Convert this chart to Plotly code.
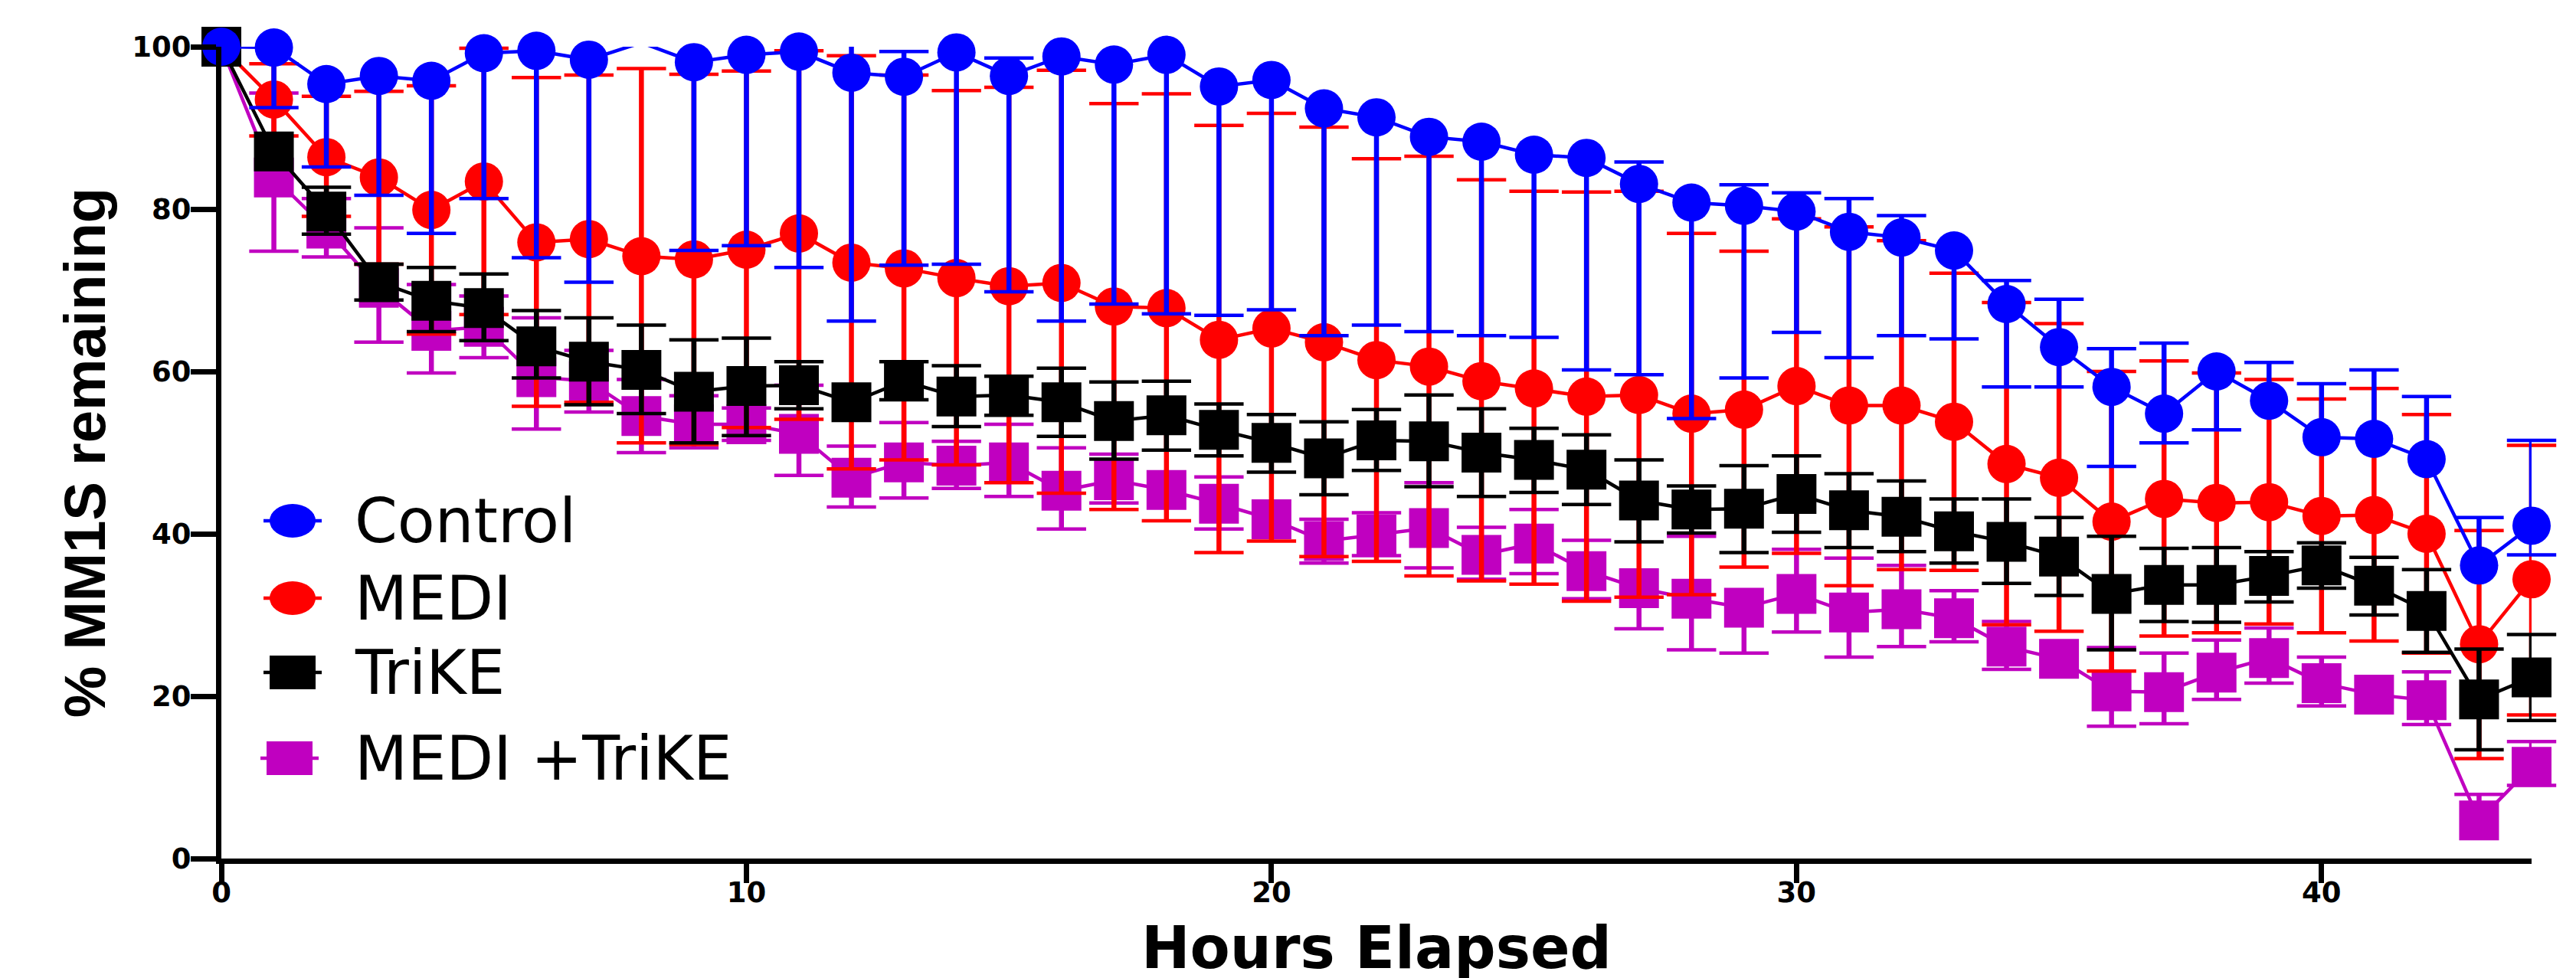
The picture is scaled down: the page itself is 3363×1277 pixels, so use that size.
import plotly.graph_objects as go

# ---------------- data ----------------
hours = list(range(45))

control = [100, 99.9, 95.4, 96.4, 95.8, 99.2, 99.5, 98.4, 100.5, 98.1,
           99.0, 99.4, 96.8, 96.3, 99.3, 96.4, 98.8, 97.8, 99.0, 95.1,
           95.9, 92.4, 91.3, 88.9, 88.3, 86.7, 86.3, 83.1, 80.8, 80.4,
           79.7, 77.2, 76.5, 74.9, 68.3, 63.0, 58.1, 54.8, 60.0, 56.4,
           51.9, 51.7, 49.2, 36.1, 41.0]
control_hi = [None, None, None, None, None, None, None, None, None, None,
              None, None, 103.0, 99.4, None, 98.6, None, None, None, None,
              None, None, None, None, None, None, None, 85.8, None, 83.0,
              82.0, 81.3, 79.2, None, 71.2, 68.9, 62.8, 63.5, None, 61.1,
              58.5, 60.2, 56.9, 42.0, 51.5]
control_lo = [None, 92.5, 85.2, 81.7, 77.0, 81.3, 74.0, 71.0, None, 74.9,
              75.5, 72.8, 66.2, 73.1, 73.2, 69.8, 66.2, 68.3, 67.1, 66.9,
              67.6, 64.4, 65.7, 64.9, 64.4, 64.2, 60.2, 59.6, 54.2, 59.2,
              64.8, 61.7, 64.4, 64.0, 58.1, 58.1, 48.3, 51.2, 52.8, None,
              None, None, None, None, 37.4]

medi = [100, 93.5, 86.4, 83.9, 79.9, 83.4, 75.9, 76.3, 74.2, 73.8,
        75.0, 77.0, 73.4, 72.7, 71.5, 70.5, 70.9, 68.0, 67.8, 63.9,
        65.3, 63.6, 61.4, 60.6, 58.8, 57.9, 56.9, 57.1, 54.8, 55.3,
        58.2, 55.8, 55.8, 53.8, 48.6, 46.9, 41.5, 44.3, 43.8, 43.9,
        42.2, 42.3, 40.0, 26.4, 34.4]
medi_hi = [None, 97.9, 93.9, 94.5, 95.2, 99.8, 96.2, 96.5, 97.3, 96.6,
           97.0, 99.5, 98.9, 96.5, 94.6, 95.0, 97.1, 93.0, 94.2, 90.3,
           91.8, 90.1, 86.2, 86.5, 83.6, 82.2, 82.1, 82.2, 77.0, 74.8,
           78.8, 77.8, 76.1, 72.1, 68.5, 65.9, 60.0, 61.3, 59.8, 59.0,
           56.6, 57.9, 54.7, 40.4, 50.9]
medi_lo = [None, 89.0, 79.1, 73.2, 64.6, 67.0, 55.7, 56.2, 51.2, 51.0,
           53.1, 54.1, 48.0, 49.1, 48.5, 46.3, 45.0, 43.0, 41.6, 37.7,
           39.1, 37.2, 36.6, 34.8, 34.2, 33.8, 31.7, 32.2, 32.5, 35.9,
           37.6, 33.6, 35.6, 35.5, 28.8, 28.0, 23.1, 27.4, 27.8, 28.9,
           27.8, 26.8, 25.3, 12.3, 17.7]

trike = [100, 87.1, 79.7, 71.0, 68.7, 67.8, 63.1, 61.2, 60.2, 57.5,
         58.2, 58.3, 56.2, 58.8, 56.9, 57.1, 56.2, 53.9, 54.6, 52.8,
         51.2, 49.3, 51.5, 51.4, 50.0, 49.1, 47.9, 44.1, 43.0, 43.1,
         44.9, 42.9, 42.1, 40.3, 39.0, 37.2, 32.6, 33.7, 33.7, 34.8,
         36.1, 33.6, 30.5, 19.6, 22.3]
trike_hi = [None, None, 82.7, 73.2, 72.8, 72.0, 67.5, 66.6, 65.7, 63.9,
            64.1, 61.2, None, 61.2, 60.7, 59.4, 60.4, 58.7, 58.8, 56.0,
            54.7, 53.8, 55.3, 57.1, 55.4, 53.0, 52.2, 49.1, 45.9, 48.4,
            49.6, 47.4, 46.5, 44.3, 44.3, 42.0, 39.7, 38.2, 38.3, 37.8,
            38.9, 37.1, 35.6, 25.8, 27.6]
trike_lo = [None, None, 76.9, 68.8, 64.9, 63.8, 59.2, 55.9, 54.8, 51.2,
            52.1, 55.4, None, 56.5, 53.2, 54.6, 52.0, 49.2, 50.3, 49.6,
            47.6, 44.8, 47.8, 45.8, 44.6, 45.1, 43.6, 39.0, 40.1, 37.7,
            40.2, 38.3, 37.8, 36.4, 33.9, 32.4, 25.7, 29.2, 29.1, 31.6,
            33.3, 30.0, 25.4, 13.4, 17.0]

combo = [100, 83.9, 77.6, 70.3, 65.0, 65.5, 59.3, 58.8, 54.5, 53.5,
         53.5, 52.3, 46.9, 48.8, 48.4, 48.8, 45.3, 46.6, 45.4, 43.7,
         41.8, 39.1, 39.9, 40.7, 37.4, 38.8, 35.4, 33.3, 32.0, 30.9,
         32.6, 30.3, 30.7, 29.6, 26.1, 24.6, 20.6, 20.5, 22.9, 24.7,
         21.6, 20.2, 19.5, 4.7, 11.3]
combo_hi = [None, 94.3, 81.3, 77.7, 70.7, 69.3, 66.6, 62.6, 59.0, 57.0,
            55.5, 58.3, 50.8, 53.7, 51.4, 53.5, 50.6, 49.8, None, 47.0,
            None, 41.8, 42.6, 46.3, 40.8, 43.0, 39.2, None, 39.7, None,
            38.1, 37.0, 36.1, 33.0, 29.2, None, 26.0, 25.3, 26.9, 28.4,
            24.8, None, 23.0, 7.9, 14.4]
combo_lo = [None, 74.8, 74.1, 63.6, 59.8, 61.7, 52.9, 55.0, 50.0, 50.6,
            51.5, 47.2, 43.3, 44.4, 45.6, 44.6, 40.6, 43.8, None, 40.6,
            None, 36.4, 37.3, 35.8, 34.4, 35.1, 32.0, 28.3, 25.7, 25.3,
            27.9, 24.8, 26.1, 26.7, 23.3, None, 16.3, 16.6, 19.6, 21.6,
            18.8, None, 16.5, None, 9.0]

x_ticks = [0, 10, 20, 30, 40]
y_ticks = [0, 20, 40, 60, 80, 100]

# ---------------- style ----------------
BLUE, RED, BLACK, MAGENTA = "#0000ff", "#ff0000", "#000000", "#c000c0"
W, H = 3363, 1277
ML, MR, MT, MB = 281, 66, 53, 164
PW, PH = W - ML - MR, H - MT - MB

fig = go.Figure()


def add_series(name, y, hi, lo, color, symbol, msize):
    plus = [(h - v) if h is not None else 0 for v, h in zip(y, hi)]
    minus = [(v - l) if l is not None else 0 for v, l in zip(y, lo)]
    # connecting line + error bar stems (clipped to plot area)
    fig.add_trace(go.Scatter(
        x=hours, y=y, mode="lines", line=dict(color=color, width=4.5),
        error_y=dict(type="data", symmetric=False, array=plus, arrayminus=minus,
                     color=color, thickness=6.5, width=0),
        showlegend=False, hoverinfo="skip", cliponaxis=True))
    # error bar caps
    cx, cy = [], []
    for xv, h, l in zip(hours, hi, lo):
        if h is not None and h <= 100:
            cx.append(xv); cy.append(h)
        if l is not None and l <= 100:
            cx.append(xv); cy.append(l)
    fig.add_trace(go.Scatter(
        x=cx, y=cy, mode="markers",
        marker=dict(symbol="line-ew", size=46, color=color,
                    line=dict(width=4.5, color=color)),
        showlegend=False, hoverinfo="skip", cliponaxis=False))
    # data markers (points beyond the axis maximum are not drawn)
    ym = [v if v <= 100 else None for v in y]
    fig.add_trace(go.Scatter(
        x=hours, y=ym, mode="markers", name=name,
        marker=dict(symbol=symbol, size=msize, color=color, line=dict(width=0)),
        showlegend=False, cliponaxis=False))


add_series("MEDI +TriKE", combo, combo_hi, combo_lo, MAGENTA, "square", 52)
add_series("MEDI", medi, medi_hi, medi_lo, RED, "circle", 50)
add_series("TriKE", trike, trike_hi, trike_lo, BLACK, "square", 52)
add_series("Control", control, control_hi, control_lo, BLUE, "circle", 50)

# ---------------- legend (drawn like the original, large glyphs) ----------------
legend_items = [("Control", BLUE, "circle", 374, 672),
                ("MEDI", RED, "circle", 374, 773),
                ("TriKE", BLACK, "rect", 374, 870),
                ("MEDI +TriKE", MAGENTA, "rect", 370, 982)]
TEXT_X = 453
shapes, annotations = [], []
for label, color, kind, gx, gy in legend_items:
    xa = (gx - ML) / PW
    ya = (MT + PH - gy) / PH
    shapes.append(dict(type="line", xref="paper", yref="paper",
                       xsizemode="pixel", ysizemode="pixel",
                       xanchor=xa, yanchor=ya, x0=-38, x1=38, y0=0, y1=0,
                       line=dict(color=color, width=4.5)))
    shapes.append(dict(type=kind, xref="paper", yref="paper",
                       xsizemode="pixel", ysizemode="pixel",
                       xanchor=xa, yanchor=ya, x0=-30, x1=30, y0=-22, y1=22,
                       fillcolor=color, line=dict(width=0)))
    annotations.append(dict(text=label, xref="paper", yref="paper",
                            x=(TEXT_X - ML) / PW, y=ya, xanchor="left",
                            yanchor="middle", showarrow=False,
                            font=dict(family="DejaVu Sans", size=80, color="black")))

# x-axis title, sitting at the bottom edge of the figure
annotations.append(dict(text="Hours Elapsed", xref="paper", yref="paper",
                        x=0.5, y=(MT + PH - 1276) / PH, xanchor="center",
                        yanchor="bottom", showarrow=False,
                        font=dict(family="DejaVu Sans", size=76, color="black",
                                  weight="bold")))

tickfont = dict(family="DejaVu Sans", size=37, color="black", weight="bold")

fig.update_xaxes(range=[0, 44], tickmode="array", tickvals=x_ticks,
                 showline=True, linewidth=7, linecolor="black",
                 ticks="outside", ticklen=25, tickwidth=7, tickcolor="black",
                 ticklabelstandoff=-19,
                 tickfont=tickfont, showgrid=False, zeroline=False, automargin=False)
fig.update_yaxes(range=[0, 100], tickmode="array", tickvals=y_ticks,
                 showline=True, linewidth=7, linecolor="black",
                 ticks="outside", ticklen=33, tickwidth=7, tickcolor="black",
                 ticklabelstandoff=-8,
                 tickfont=tickfont, showgrid=False, zeroline=False, automargin=False,
                 title=dict(text="% MM1S remaining", standoff=12,
                            font=dict(family="Liberation Sans, Arial", size=76,
                                      color="black", weight="bold")))

fig.update_layout(width=W, height=H,
                  margin=dict(l=ML, r=MR, t=MT, b=MB, autoexpand=False),
                  paper_bgcolor="white", plot_bgcolor="white",
                  showlegend=False, shapes=shapes, annotations=annotations)

fig.write_html("out.html")
